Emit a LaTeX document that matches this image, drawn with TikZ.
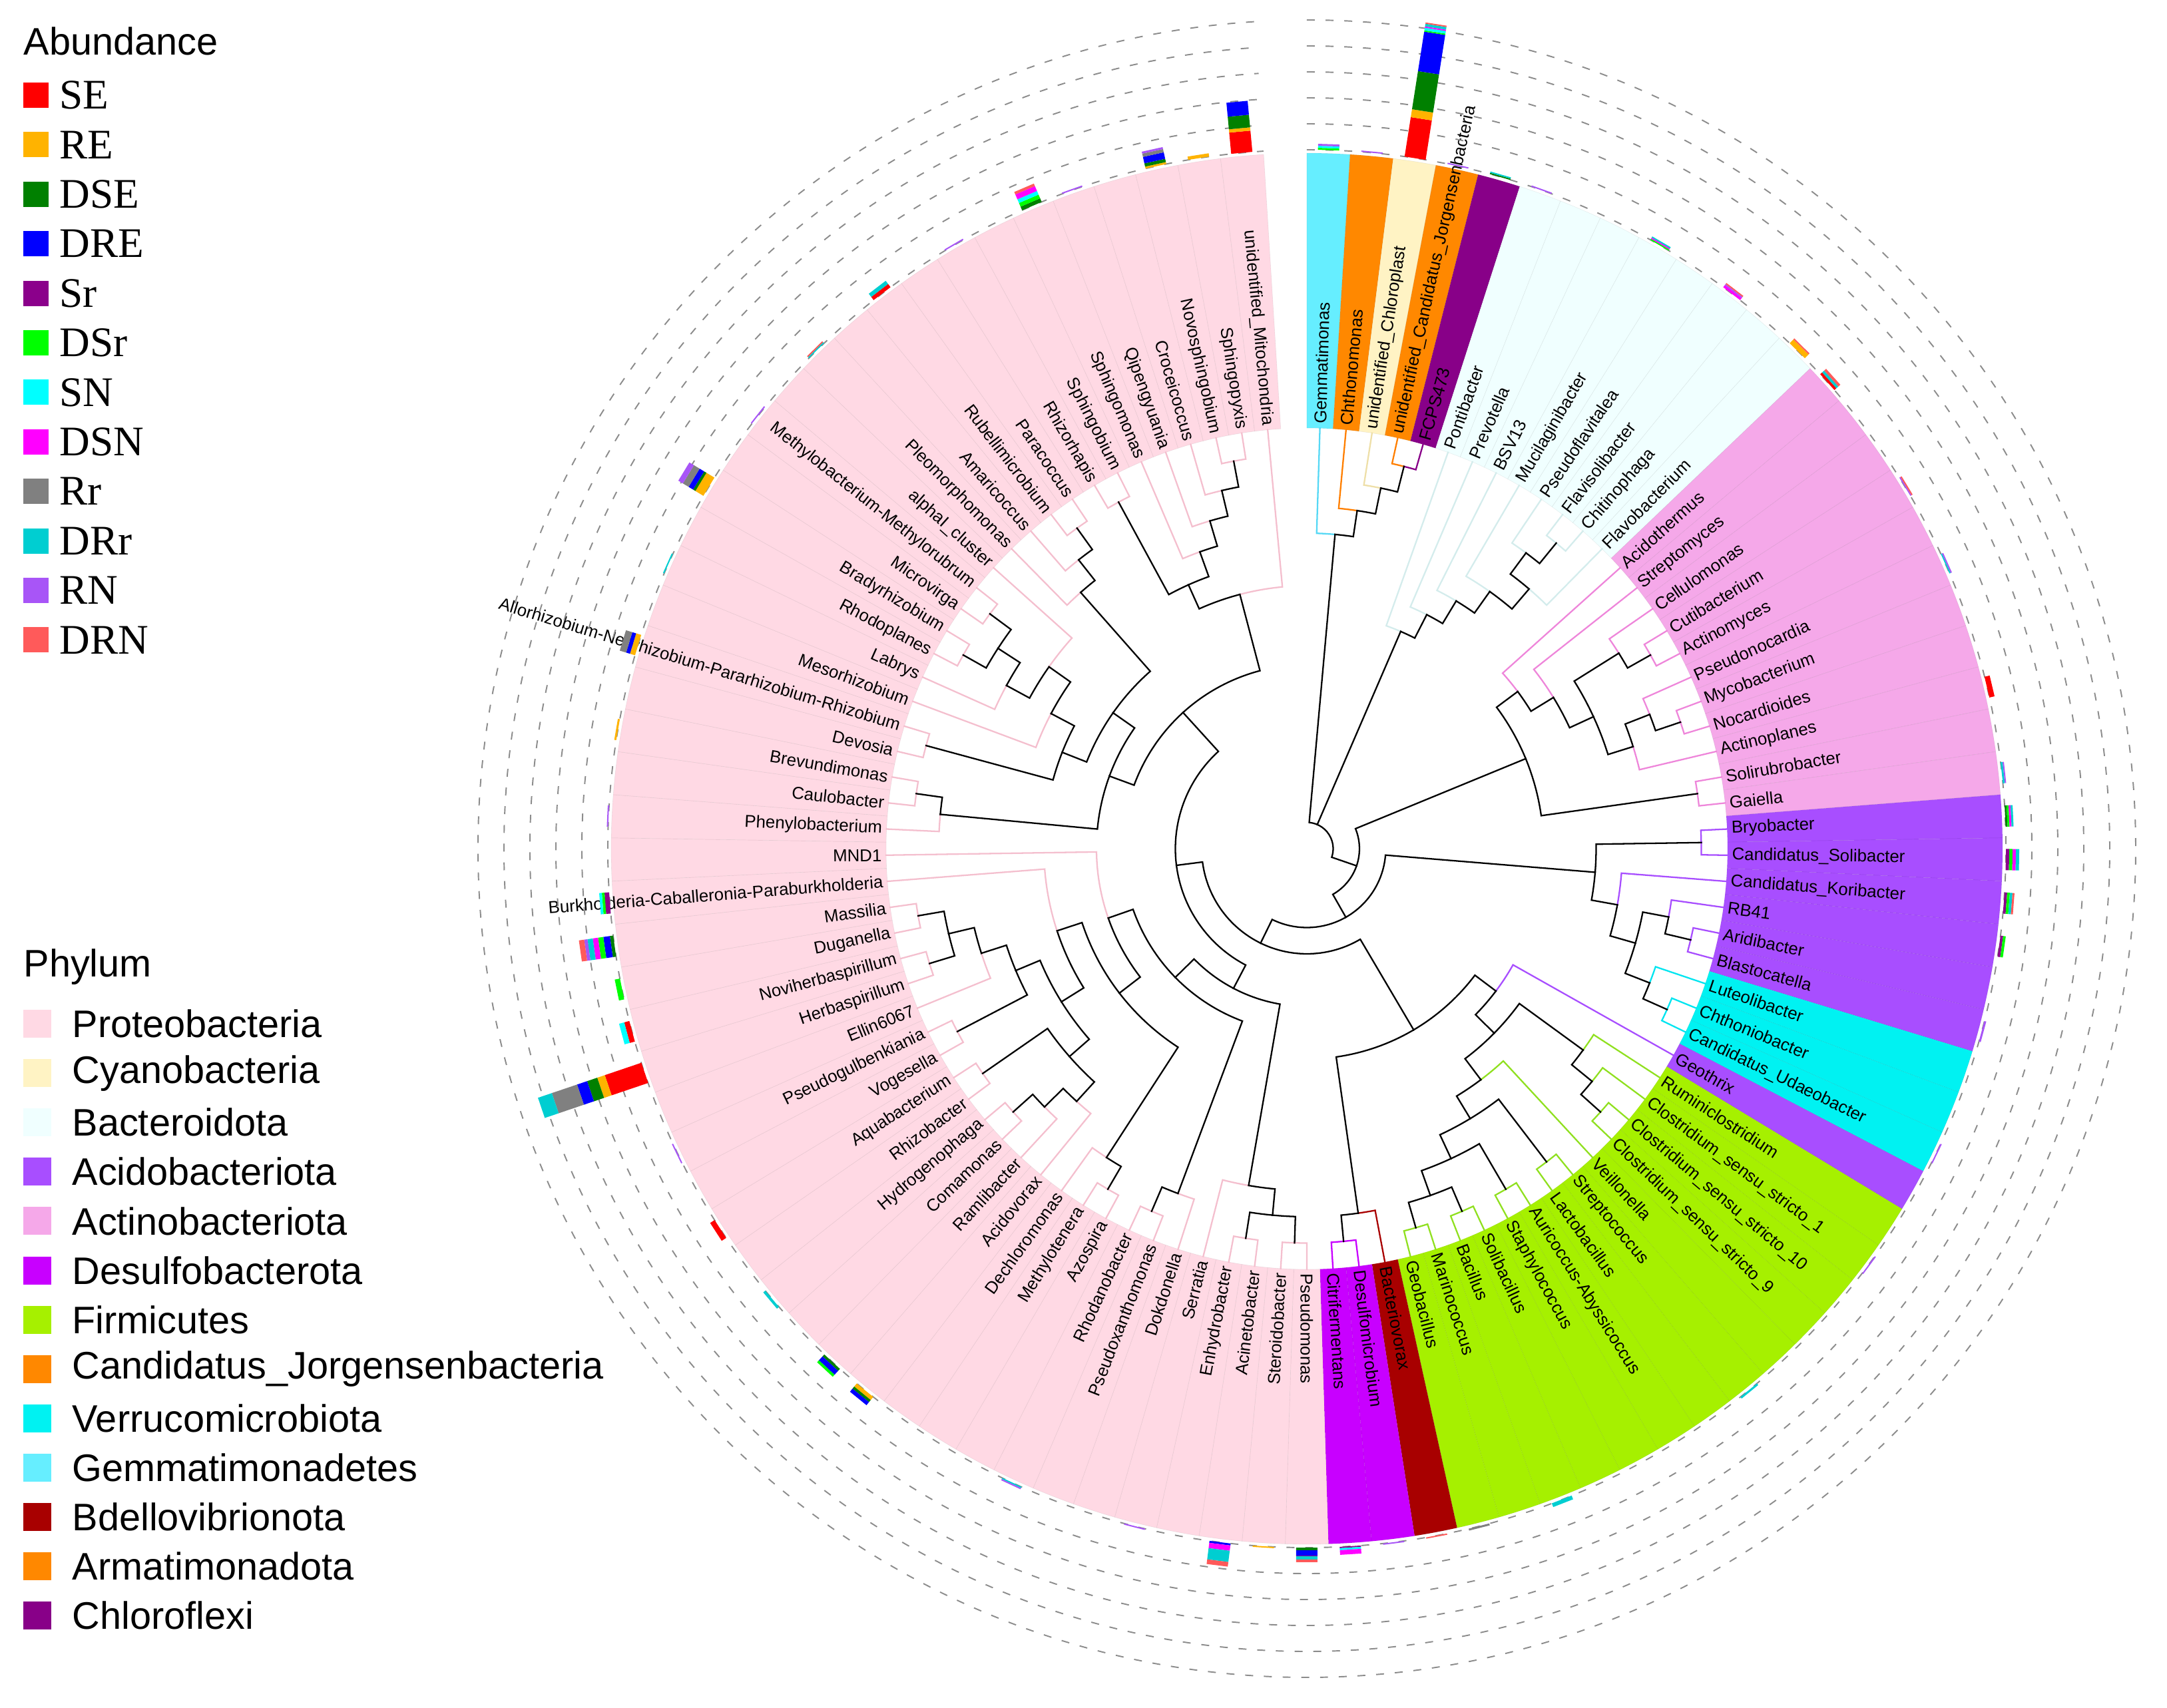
\documentclass[tikz,border=0pt]{standalone}
\usepackage{fontspec}
\setmainfont{Liberation Sans}
\newfontfamily\legserif{Liberation Serif}
\usepackage{tikz}

% phylum colours (band) and branch colours
\definecolor{pro}{HTML}{FFD9E4}\definecolor{proL}{HTML}{F4BFCE}
\definecolor{cya}{HTML}{FFF3C4}\definecolor{cyaL}{HTML}{EEDFA8}
\definecolor{bac}{HTML}{F0FFFF}\definecolor{bacL}{HTML}{D4ECEC}
\definecolor{aci}{HTML}{A84EFF}\definecolor{aciL}{HTML}{A84EFF}
\definecolor{act}{HTML}{F5A8E9}\definecolor{actL}{HTML}{EE86DA}
\definecolor{des}{HTML}{C800FF}\definecolor{desL}{HTML}{C800FF}
\definecolor{fir}{HTML}{A6F000}\definecolor{firL}{HTML}{90E020}
\definecolor{jor}{HTML}{FF8800}\definecolor{jorL}{HTML}{FF7F00}
\definecolor{ver}{HTML}{00F2F2}\definecolor{verL}{HTML}{00E5F0}
\definecolor{gem}{HTML}{66EEFF}\definecolor{gemL}{HTML}{55D8F5}
\definecolor{bde}{HTML}{A80000}\definecolor{bdeL}{HTML}{A80000}
\definecolor{arm}{HTML}{FF8800}\definecolor{armL}{HTML}{FF7F00}
\definecolor{chl}{HTML}{880088}\definecolor{chlL}{HTML}{880088}
% abundance colours
\definecolor{ab1}{HTML}{FF0000}\definecolor{ab2}{HTML}{FFB300}
\definecolor{ab3}{HTML}{008000}\definecolor{ab4}{HTML}{0000FF}
\definecolor{ab5}{HTML}{8B008B}\definecolor{ab6}{HTML}{00FF00}
\definecolor{ab7}{HTML}{00FFFF}\definecolor{ab8}{HTML}{FF00FF}
\definecolor{ab9}{HTML}{808080}\definecolor{ab10}{HTML}{00CED1}
\definecolor{ab11}{HTML}{A855F7}\definecolor{ab12}{HTML}{FF5A5A}

\def\lw{3.5644}  % degrees per leaf
\def\rleaf{6.32}
\def\rstep{0.395}
\def\rband{10.45}
\def\rlab{6.38}
\def\rbar{10.50}
\def\bw{0.16}

% phylum of leaf #1
\newcommand{\setphy}[1]{%
  \ifnum#1<2 \def\ph{gem}\else
  \ifnum#1<3 \def\ph{arm}\else
  \ifnum#1<4 \def\ph{cya}\else
  \ifnum#1<5 \def\ph{jor}\else
  \ifnum#1<6 \def\ph{chl}\else
  \ifnum#1<14 \def\ph{bac}\else
  \ifnum#1<25 \def\ph{act}\else
  \ifnum#1<31 \def\ph{aci}\else
  \ifnum#1<34 \def\ph{ver}\else
  \ifnum#1<35 \def\ph{aci}\else
  \ifnum#1<48 \def\ph{fir}\else
  \ifnum#1<49 \def\ph{bde}\else
  \ifnum#1<51 \def\ph{des}\else
  \def\ph{pro}\fi\fi\fi\fi\fi\fi\fi\fi\fi\fi\fi\fi\fi}

% tree node #1 joining #2 and #3
\newcommand{\tn}[3]{%
  \edef\tAa{\csname tA#2\endcsname}\edef\tAb{\csname tA#3\endcsname}%
  \edef\tHa{\csname tH#2\endcsname}\edef\tHb{\csname tH#3\endcsname}%
  \edef\tCa{\csname tC#2\endcsname}\edef\tCb{\csname tC#3\endcsname}%
  \pgfmathsetmacro\tHn{1+max(\tHa,\tHb)}%
  \pgfmathsetmacro\tAn{(\tAa+\tAb)/2}%
  \pgfmathsetmacro\tRn{\rleaf-\rstep*\tHn}%
  \pgfmathsetmacro\tRa{\rleaf-\rstep*\tHa}%
  \pgfmathsetmacro\tRb{\rleaf-\rstep*\tHb}%
  \draw[branch, draw=\tCa] (\tAa:\tRa) -- (\tAa:\tRn) arc[start angle=\tAa, end angle=\tAn, radius=\tRn];
  \draw[branch, draw=\tCb] (\tAb:\tRb) -- (\tAb:\tRn) arc[start angle=\tAb, end angle=\tAn, radius=\tRn];
  \expandafter\xdef\csname tA#1\endcsname{\tAn}%
  \expandafter\xdef\csname tH#1\endcsname{\tHn}%
  \expandafter\gdef\csname tC#1\endcsname{black}%
}

% root with three children
\newcommand{\rootn}[3]{%
  \edef\tAa{\csname tA#1\endcsname}\edef\tAb{\csname tA#2\endcsname}\edef\tAc{\csname tA#3\endcsname}%
  \edef\tHa{\csname tH#1\endcsname}\edef\tHb{\csname tH#2\endcsname}\edef\tHc{\csname tH#3\endcsname}%
  \pgfmathsetmacro\tRn{\rleaf-\rstep*(1+max(\tHa,\tHb,\tHc))}%
  \pgfmathsetmacro\tRa{\rleaf-\rstep*\tHa}%
  \pgfmathsetmacro\tRb{\rleaf-\rstep*\tHb}%
  \pgfmathsetmacro\tRc{\rleaf-\rstep*\tHc}%
  \draw[branch] (\tAa:\tRa) -- (\tAa:\tRn) arc[start angle=\tAa, end angle=\tAc, radius=\tRn] -- (\tAc:\tRc);
  \draw[branch] (\tAb:\tRb) -- (\tAb:\tRn);
}

% stacked abundance bar on leaf #1
\newcommand{\abar}[2]{%
  \pgfmathsetmacro\ba{90-\lw*(#1-0.5)}%
  \xdef\bcur{\rbar}%
  \foreach \v [count=\k] in {#2}{%
    \ifdim\v pt>0pt
      \pgfmathsetmacro\bnext{\bcur+\v/100}%
      \edef\bcol{ab\k}%
      \fill[fill=\bcol, rotate=\ba] (\bcur,-\bw) rectangle (\bnext,\bw);
      \xdef\bcur{\bnext}%
    \fi
  }%
}

\begin{document}
\begin{tikzpicture}[
  branch/.style={line width=0.65pt, line cap=rect},
  ring/.style={draw=black!45, line width=0.55pt, dash pattern=on 3.4pt off 4.6pt},
  lbl/.style={font=\fontsize{7.35}{8}\selectfont, inner sep=0pt},
  legtxt/.style={font=\fontsize{16.4}{18}\selectfont, anchor=west, inner sep=0pt},
  abtxt/.style={font=\legserif\fontsize{18}{20}\selectfont, anchor=west, inner sep=0pt}]

\useasboundingbox (-19.63,-12.90) rectangle (12.92,12.75);

% coloured ranges
\foreach \i in {1,...,100}{
  \setphy{\i}
  \pgfmathsetmacro\la{90-\lw*(\i-1)}
  \pgfmathsetmacro\lb{90-\lw*\i}
  \filldraw[fill=\ph, draw=black, draw opacity=0.06, line width=0.2pt]
    (\la:\rleaf) arc[start angle=\la, end angle=\lb, radius=\rleaf]
    -- (\lb:\rband) arc[start angle=\lb, end angle=\la, radius=\rband] -- cycle;
}

% leaf labels
\foreach \nm [count=\i] in {Gemmatimonas, Chthonomonas, unidentified\_Chloroplast,
  unidentified\_Candidatus\_Jorgensenbacteria, FCPS473, Pontibacter, Prevotella, BSV13,
  Mucilaginibacter, Pseudoflavitalea, Flavisolibacter, Chitinophaga, Flavobacterium,
  Acidothermus, Streptomyces, Cellulomonas, Cutibacterium, Actinomyces, Pseudonocardia,
  Mycobacterium, Nocardioides, Actinoplanes, Solirubrobacter, Gaiella, Bryobacter,
  Candidatus\_Solibacter, Candidatus\_Koribacter, RB41, Aridibacter, Blastocatella,
  Luteolibacter, Chthoniobacter, Candidatus\_Udaeobacter, Geothrix, Ruminiclostridium,
  Clostridium\_sensu\_stricto\_1, Clostridium\_sensu\_stricto\_10, Clostridium\_sensu\_stricto\_9,
  Veillonella, Streptococcus, Lactobacillus, Auricoccus-Abyssicoccus, Staphylococcus,
  Solibacillus, Bacillus, Marinococcus, Geobacillus, Bacteriovorax, Desulfomicrobium,
  Citrifermentans, Pseudomonas, Steroidobacter, Acinetobacter, Enhydrobacter, Serratia,
  Dokdonella, Pseudoxanthomonas, Rhodanobacter, Azospira, Methylotenera, Dechloromonas,
  Acidovorax, Ramlibacter, Comamonas, Hydrogenophaga, Rhizobacter, Aquabacterium,
  Vogesella, Pseudogulbenkiania, Ellin6067, Herbaspirillum, Noviherbaspirillum, Duganella,
  Massilia, Burkholderia-Caballeronia-Paraburkholderia, MND1, Phenylobacterium,
  Caulobacter, Brevundimonas, Devosia, Allorhizobium-Neorhizobium-Pararhizobium-Rhizobium,
  Mesorhizobium, Labrys, Rhodoplanes, Bradyrhizobium, Microvirga,
  Methylobacterium-Methylorubrum, alphaI\_cluster, Pleomorphomonas, Amaricoccus,
  Rubellimicrobium, Paracoccus, Rhizorhapis, Sphingobium, Sphingomonas, Qipengyuania,
  Croceicoccus, Novosphingobium, Sphingopyxis, unidentified\_Mitochondria}{
  \pgfmathsetmacro\la{90-\lw*(\i-0.5)}
  \ifnum\i<52
    \node[lbl, anchor=west, rotate=\la] (lab\i) at (\la:\rlab) {\nm};
  \else
    \node[lbl, anchor=east, rotate=\la+180] (lab\i) at (\la:\rlab) {\nm};
  \fi
}

% leaves
\foreach \i in {1,...,100}{
  \setphy{\i}
  \pgfmathsetmacro\la{90-\lw*(\i-0.5)}
  \expandafter\xdef\csname tAL\i\endcsname{\la}
  \expandafter\xdef\csname tHL\i\endcsname{0}
  \expandafter\xdef\csname tCL\i\endcsname{\ph L}
}

% Gemmatimonadetes ... Chloroflexi
\tn{a1}{L4}{L5}
\tn{a2}{L3}{a1}
\tn{a3}{L2}{a2}
\tn{A}{L1}{a3}
% Bacteroidota
\tn{b1}{L11}{L12}
\tn{b2}{L10}{b1}
\tn{b3}{b2}{L13}
\tn{b4}{L9}{b3}
\tn{b5}{L8}{b4}
\tn{b6}{L7}{b5}
\tn{B}{L6}{b6}
% Actinobacteriota
\tn{d1}{L17}{L18}
\tn{d2}{L16}{d1}
\tn{d3}{L20}{L21}
\tn{d4}{L19}{d3}
\tn{d5}{d4}{L22}
\tn{d6}{d2}{d5}
\tn{d7}{L15}{d6}
\tn{d8}{L14}{d7}
\tn{d9}{L23}{L24}
\tn{D}{d8}{d9}
% Acidobacteriota, Verrucomicrobiota
\tn{f1}{L25}{L26}
\tn{f2}{L29}{L30}
\tn{f3}{L28}{f2}
\tn{f4}{L32}{L33}
\tn{f5}{L31}{f4}
\tn{f6}{f3}{f5}
\tn{f7}{L27}{f6}
\tn{F}{f1}{f7}
% Firmicutes, Bdellovibrionota, Desulfobacterota
\tn{x1}{L37}{L38}
\tn{x2}{L36}{x1}
\tn{x3}{L35}{x2}
\tn{x4}{L44}{L45}
\tn{x5}{L46}{L47}
\tn{x6}{x4}{x5}
\tn{x7}{L42}{L43}
\tn{x8}{x7}{x6}
\tn{x9}{L40}{L41}
\tn{x10}{x9}{x8}
\tn{x11}{L39}{x10}
\tn{x12}{x3}{x11}
\tn{x13}{L34}{x12}
\tn{x14}{L49}{L50}
\tn{x15}{L48}{x14}
\tn{X}{x13}{x15}
% Proteobacteria
\tn{p1}{L51}{L52}
\tn{p2}{L53}{L54}
\tn{p3}{p1}{p2}
\tn{p4}{p3}{L55}
\tn{p5}{L57}{L58}
\tn{p6}{L56}{p5}
\tn{p7}{L59}{L60}
\tn{p8}{p7}{L61}
\tn{p9}{L64}{L65}
\tn{p10}{L63}{p9}
\tn{p11}{L62}{p10}
\tn{p12}{L66}{L67}
\tn{p13}{p11}{p12}
\tn{p14}{L71}{L72}
\tn{p15}{L73}{L74}
\tn{p16}{p14}{p15}
\tn{p17}{L70}{p16}
\tn{p18}{L68}{L69}
\tn{p19}{p18}{p17}
\tn{p20}{p13}{p19}
\tn{p21}{p20}{L75}
\tn{p22}{p8}{p21}
\tn{p23}{p22}{L76}
\tn{p24}{p6}{p23}
\tn{p25}{p4}{p24}
\tn{q1}{L78}{L79}
\tn{q2}{L77}{q1}
\tn{q3}{L84}{L85}
\tn{q4}{L86}{L87}
\tn{q5}{q3}{q4}
\tn{q6}{L83}{q5}
\tn{q7}{q6}{L88}
\tn{q8}{L82}{q7}
\tn{q9}{L80}{L81}
\tn{q10}{q9}{q8}
\tn{q11}{L91}{L92}
\tn{q12}{L90}{q11}
\tn{q13}{L89}{q12}
\tn{q14}{q10}{q13}
\tn{q15}{q2}{q14}
\tn{q16}{L98}{L99}
\tn{q17}{L97}{q16}
\tn{q18}{L96}{q17}
\tn{q19}{L95}{q18}
\tn{q20}{L93}{L94}
\tn{q21}{q20}{q19}
\tn{q22}{q21}{L100}
\tn{q23}{q15}{q22}
\tn{H}{p25}{q23}
% backbone
\tn{G}{X}{H}
\tn{E}{F}{G}
\tn{C}{D}{E}
\rootn{A}{B}{C}

% rings
\foreach \k in {0,...,5}{
  \pgfmathsetmacro\rr{10.50+0.39*\k}
  \draw[ring] (90:\rr) arc[start angle=90, end angle=-266.44, radius=\rr];
}

% abundance bars: SE,RE,DSE,DRE,Sr,DSr,SN,DSN,Rr,DRr,RN,DRN
\abar{1}{0,0,0,0,0,3,3,0,0,0,3,0}
\abar{2}{0,0,0,0,0,0,0,0,0,0,2,0}
\abar{3}{60,12,58,60,0,2,4,2,0,4,0,2}
\abar{4}{0,0,0,0,0,0,0,0,0,0,2,0}
\abar{5}{0,0,2,0,0,0,0,0,0,2,0,0}
\abar{6}{0,0,0,0,0,0,0,0,0,0,2,0}
\abar{9}{0,0,0,0,0,2,0,2,0,2,0,0}
\abar{11}{0,0,0,0,0,0,0,4,0,0,2,2}
\abar{13}{0,8,0,0,0,0,0,0,0,0,0,2}
\abar{14}{4,0,0,0,0,0,0,0,0,4,0,4}
\abar{17}{0,0,0,0,0,0,0,0,0,0,2,2}
\abar{19}{0,0,0,0,0,0,0,0,0,2,2,0}
\abar{22}{8,0,0,0,0,0,0,0,0,0,0,0}
\abar{24}{0,0,0,0,0,0,0,0,0,3,2,0}
\abar{25}{0,0,3,0,0,3,0,3,0,3,0,0}
\abar{26}{0,0,0,0,5,5,0,5,0,5,0,0}
\abar{27}{0,0,0,0,4,4,0,0,0,4,0,3}
\abar{28}{0,0,0,0,4,4,0,0,0,0,0,0}
\abar{30}{0,0,0,0,0,0,0,0,0,0,3,0}
\abar{33}{0,0,0,0,0,0,0,0,0,0,2,0}
\abar{36}{0,0,0,0,0,0,0,0,0,0,2,0}
\abar{40}{0,0,0,0,0,0,0,0,0,3,0,0}
\abar{45}{0,0,0,0,0,0,0,0,0,6,0,0}
\abar{47}{0,0,0,0,0,0,0,0,3,0,0,0}
\abar{48}{0,0,0,0,0,0,0,0,0,0,0,2}
\abar{49}{0,0,0,0,0,0,0,0,0,0,2,0}
\abar{50}{0,0,0,0,2,0,3,7,0,0,0,0}
\abar{51}{0,0,4,8,1,0,0,0,0,5,0,4}
\abar{52}{0,2,0,0,0,0,0,0,0,0,0,0}
\abar{53}{0,0,0,3,0,0,0,8,0,17,0,7}
\abar{55}{0,0,0,0,0,0,0,0,0,0,2,0}
\abar{58}{0,0,0,0,0,0,0,0,0,2,2,0}
\abar{62}{0,6,4,6,0,0,0,0,0,0,0,0}
\abar{63}{0,0,4,8,0,4,0,0,0,0,0,0}
\abar{65}{0,0,0,0,0,0,0,0,0,4,0,0}
\abar{67}{8,0,0,0,0,0,0,0,0,0,0,0}
\abar{69}{0,0,0,0,0,0,0,0,0,0,2,0}
\abar{71}{58,12,16,16,0,0,0,0,40,22,0,0}
\abar{72}{8,0,0,0,0,0,8,0,0,0,0,0}
\abar{73}{0,0,0,0,0,8,0,0,0,0,0,0}
\abar{74}{0,0,5,10,0,8,0,8,0,8,5,8}
\abar{75}{0,0,0,0,7,4,4,0,0,0,0,0}
\abar{77}{0,0,0,0,0,0,0,0,0,0,2,0}
\abar{79}{0,3,0,0,0,0,0,0,0,0,0,0}
\abar{81}{0,8,0,6,0,0,0,0,10,0,0,0}
\abar{83}{0,0,0,0,0,0,0,0,0,2,0,0}
\abar{85}{0,14,4,8,0,0,0,0,10,0,8,0}
\abar{87}{0,0,0,0,0,0,0,0,0,0,2,0}
\abar{89}{0,0,0,0,0,0,0,0,0,2,0,2}
\abar{91}{6,0,0,0,0,0,0,0,0,6,0,0}
\abar{93}{0,0,0,0,0,0,0,0,0,0,2,0}
\abar{95}{0,0,6,0,0,6,6,8,0,0,0,4}
\abar{96}{0,0,0,0,0,0,0,0,0,0,2,0}
\abar{98}{0,3,5,10,0,0,0,0,5,0,3,0}
\abar{99}{0,5,0,0,0,0,0,0,0,0,0,0}
\abar{100}{32,5,19,21,0,0,0,0,0,0,0,0}

% legend: abundance
\node[legtxt] (abtitle) at (-19.28,12.13) {Abundance};
\foreach \nm [count=\k] in {SE,RE,DSE,DRE,Sr,DSr,SN,DSN,Rr,DRr,RN,DRN}{
  \pgfmathsetmacro\yy{(1275-143-74.4*(\k-1))/100}
  \fill[ab\k] (-19.28,\yy-0.19) rectangle ++(0.38,0.38);
  \node[abtxt] (abt\k) at (-18.74,\yy) {\nm};
}
% legend: phylum
\node[legtxt] (phtitle) at (-19.28,-1.78) {Phylum};
\foreach \nm/\cl [count=\k] in {Proteobacteria/pro, Cyanobacteria/cya, Bacteroidota/bac,
  Acidobacteriota/aci, Actinobacteriota/act, Desulfobacterota/des, Firmicutes/fir,
  Candidatus\_Jorgensenbacteria/jor, Verrucomicrobiota/ver, Gemmatimonadetes/gem,
  Bdellovibrionota/bde, Armatimonadota/arm, Chloroflexi/chl}{
  \pgfmathsetmacro\yy{(1275-1538-74.1*(\k-1))/100}
  \fill[\cl] (-19.28,\yy-0.21) rectangle ++(0.42,0.42);
  \node[legtxt] (pht\k) at (-18.55,\yy) {\nm};
}
\end{tikzpicture}
\end{document}
